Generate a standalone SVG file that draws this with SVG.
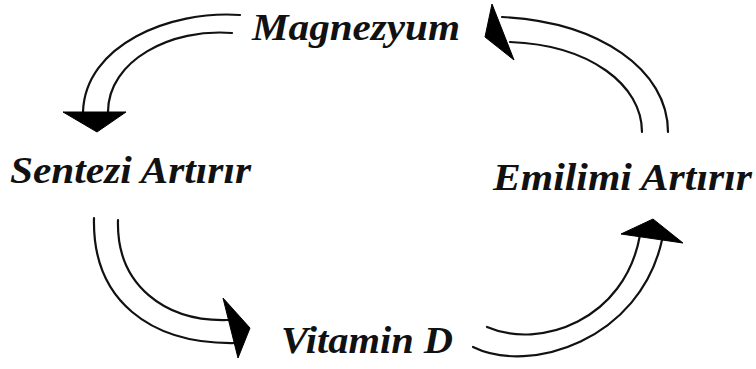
<svg xmlns="http://www.w3.org/2000/svg" width="756" height="369" viewBox="0 0 756 369">
<style>
.band{fill:none;stroke:#111;stroke-width:2.2;stroke-linecap:round}
.head{fill:#000;stroke:#000;stroke-width:1;stroke-linejoin:round}
.lbl{font-family:"Liberation Serif","DejaVu Serif",serif;font-weight:bold;font-style:italic;font-size:37px;fill:#111}
</style>
<rect width="756" height="369" fill="#fff"/>
<g id="connectors">
<g id="arrow-magnezyum-sentezi">
<path class="band" d="M240,15 C170,10 85,45 83,112"/>
<path class="band" d="M232,33 C172,28 108,60 108,112"/>
<polygon class="head" points="63,112 126,112 97,132"/>
</g>
<g id="arrow-sentezi-vitamin">
<path class="band" d="M94,218 C92,300 150,345 237,343"/>
<path class="band" d="M118,220 C116,285 165,322 228,320"/>
<polygon class="head" points="223,298 250,328 238,358"/>
</g>
<g id="arrow-vitamin-emilimi">
<path class="band" d="M473,347 C530,375 640,340 662,240"/>
<path class="band" d="M487,327 C540,350 625,320 640,235"/>
<polygon class="head" points="621,234 653,219 683,243"/>
</g>
<g id="arrow-emilimi-magnezyum">
<path class="band" d="M668,132 C668,70 600,22 502,17"/>
<path class="band" d="M642,132 C642,85 590,45 510,42"/>
<polygon class="head" points="492,4 485,37 514,60"/>
</g>
</g>
<g id="node-magnezyum"><text class="lbl" x="252" y="40" textLength="208" lengthAdjust="spacingAndGlyphs">Magnezyum</text></g>
<g id="node-sentezi"><text class="lbl" x="10" y="183" textLength="241" lengthAdjust="spacingAndGlyphs">Sentezi Artırır</text></g>
<g id="node-emilimi"><text class="lbl" x="493" y="190" textLength="259" lengthAdjust="spacingAndGlyphs">Emilimi Artırır</text></g>
<g id="node-vitamin"><text class="lbl" x="281" y="353" textLength="172" lengthAdjust="spacingAndGlyphs">Vitamin D</text></g>
</svg>
